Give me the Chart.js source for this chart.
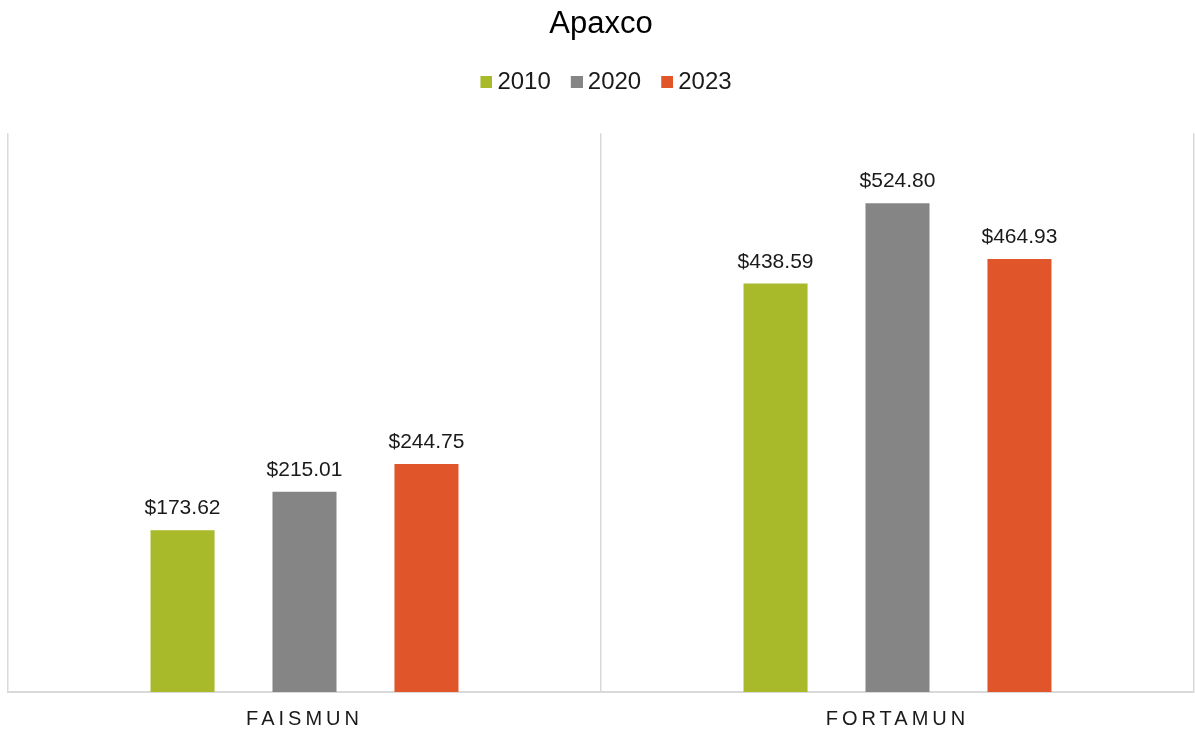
<!DOCTYPE html>
<html>
<head>
<meta charset="utf-8">
<script src="https://cdn.jsdelivr.net/npm/chart.js@4/dist/chart.umd.min.js"></script>
<style>
  html, body { margin: 0; padding: 0; background: #fff; }
  #wrap { width: 1195px; height: 731px; }
</style>
</head>
<body>
<div id="wrap"><canvas id="apaxcoChart"></canvas></div>
<script>
var categories = ["FAISMUN", "FORTAMUN"];
var years = ["2010", "2020", "2023"];
var values2010 = [173.62, 438.59];
var values2020 = [215.01, 524.80];
var values2023 = [244.75, 464.93];
var yMax = 600;

var colors = ["#a8b92a", "#858585", "#e0552a"];

// small square swatches for the legend (sits closer to the text than the default box)
function swatch(color) {
  var c = document.createElement("canvas");
  c.width = 15;
  c.height = 12;
  var g = c.getContext("2d");
  g.fillStyle = color;
  g.fillRect(3, 0, 12, 12);
  return c;
}
var swatches = colors.map(swatch);

// value labels above each bar
var barLabels = {
  id: "barLabels",
  afterDatasetsDraw: function (chart) {
    var ctx = chart.ctx;
    ctx.save();
    ctx.font = "21px 'Liberation Sans', Arial, sans-serif";
    ctx.fillStyle = "#1a1a1a";
    ctx.textAlign = "center";
    ctx.textBaseline = "alphabetic";
    chart.data.datasets.forEach(function (ds, i) {
      chart.getDatasetMeta(i).data.forEach(function (bar, j) {
        ctx.fillText("$" + ds.data[j].toFixed(2), bar.x, bar.y - 16);
      });
    });
    ctx.restore();
  }
};

// extra room under the legend, and nudge the row to the right
var legendGap = {
  id: "legendGap",
  beforeInit: function (chart) {
    var fit = chart.legend.fit;
    chart.legend.fit = function () {
      fit.call(this);
      this.height += 29;
      if (this.lineWidths) {
        this.lineWidths = this.lineWidths.map(function (w) { return w - 14; });
      }
    };
  }
};

// spaced-out category names
var spacedTicks = {
  id: "spacedTicks",
  beforeDraw: function (chart) {
    var scale = chart.scales.x;
    if (!scale || scale._spaced) return;
    var orig = scale.drawLabels;
    scale.drawLabels = function (area) {
      var ctx = this.ctx;
      var old = ctx.letterSpacing;
      ctx.letterSpacing = "4px";
      orig.call(this, area);
      ctx.letterSpacing = old || "0px";
    };
    scale._spaced = true;
  }
};

var ctx = document.getElementById("apaxcoChart").getContext("2d");
new Chart(ctx, {
  type: "bar",
  data: {
    labels: categories,
    datasets: [
      { label: years[0], data: values2010, backgroundColor: colors[0] },
      { label: years[1], data: values2020, backgroundColor: colors[1] },
      { label: years[2], data: values2023, backgroundColor: colors[2] }
    ]
  },
  options: {
    responsive: true,
    maintainAspectRatio: false,
    animation: false,
    categoryPercentage: 0.617,
    barPercentage: 0.525,
    layout: { padding: { left: 8, right: 1, top: 0, bottom: 0 } },
    plugins: {
      title: {
        display: true,
        text: "Apaxco",
        color: "#000",
        font: { family: "'Liberation Sans', Arial, sans-serif", size: 31, weight: "normal" },
        padding: { top: 6, bottom: 3 }
      },
      legend: {
        position: "top",
        labels: {
          color: "#1a1a1a",
          usePointStyle: true,
          boxWidth: 1,
          boxHeight: 12,
          padding: 24,
          font: { family: "'Liberation Sans', Arial, sans-serif", size: 24 },
          generateLabels: function (chart) {
            var items = Chart.defaults.plugins.legend.labels.generateLabels(chart);
            items.forEach(function (item, i) {
              item.pointStyle = swatches[i];
            });
            return items;
          }
        }
      },
      tooltip: { enabled: false }
    },
    scales: {
      x: {
        grid: { color: "#d9d9d9", lineWidth: 1.5, drawTicks: false },
        border: { color: "#d9d9d9", width: 2 },
        ticks: {
          color: "#1a1a1a",
          padding: 15,
          font: { family: "'Liberation Sans', Arial, sans-serif", size: 20 }
        },
        afterFit: function (scale) {
          scale.height = 39;
        }
      },
      y: {
        display: false,
        min: 0,
        max: yMax
      }
    }
  },
  plugins: [barLabels, legendGap, spacedTicks]
});
</script>
</body>
</html>
